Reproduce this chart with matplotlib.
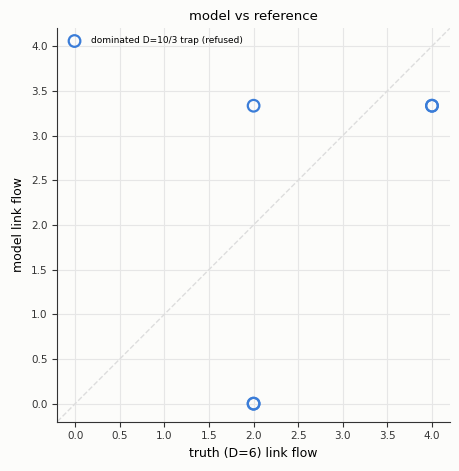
import matplotlib
matplotlib.use("Agg")
import matplotlib.pyplot as plt

truth = [2.0, 4.0, 2.0, 4.0, 2.0]
model = [10 / 3, 10 / 3, 0.0, 10 / 3, 0.0]
ticks = [0.0, 0.5, 1.0, 1.5, 2.0, 2.5, 3.0, 3.5, 4.0]

bg = "#fcfcfa"
fig, ax = plt.subplots(figsize=(4.59, 4.71), dpi=100)
fig.patch.set_facecolor(bg)
ax.set_facecolor(bg)

lo, hi = -0.2, 4.2
ax.plot([lo, hi], [lo, hi], ls="--", color="#dddddd", lw=1, zorder=1)
ax.scatter(truth, model, s=70, facecolors="none", edgecolors="#3b7dd8", linewidths=1.6,
           label="dominated D=10/3 trap (refused)", zorder=3)

ax.set_xlim(lo, hi)
ax.set_ylim(lo, hi)
ax.set_xticks(ticks)
ax.set_yticks(ticks)
ax.grid(True, color="#e6e6e6", lw=0.8)
ax.set_axisbelow(True)
for s in ("top", "right"):
    ax.spines[s].set_visible(False)
for s in ("left", "bottom"):
    ax.spines[s].set_color("#333333")
ax.tick_params(labelsize=7.5, colors="#333333")
ax.set_xlabel("truth (D=6) link flow", fontsize=9)
ax.set_ylabel("model link flow", fontsize=9)
ax.set_title("model vs reference", fontsize=9.5)
ax.legend(loc="upper left", fontsize=6.5, frameon=False)

fig.subplots_adjust(left=0.125, right=0.98, top=0.94, bottom=0.105)
fig.savefig("out.png", dpi=100, facecolor=bg)
